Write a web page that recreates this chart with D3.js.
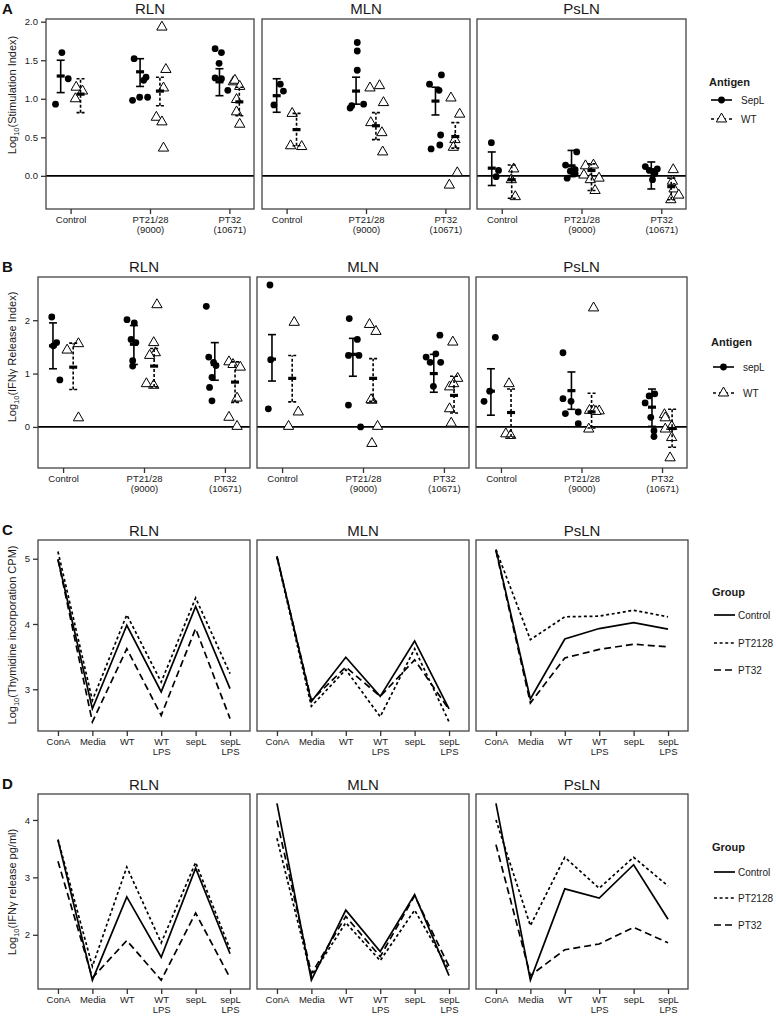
<!DOCTYPE html>
<html><head><meta charset="utf-8">
<script src="https://cdn.jsdelivr.net/npm/d3@7"></script>
<style>body{margin:0;background:#fff}svg{display:block}text{font-family:"Liberation Sans",Arial,sans-serif}</style>
</head><body><svg id="c" width="776" height="1018"></svg>
<script>
// ---------- categories / labels ----------
const nodes = ["RLN", "MLN", "PsLN"];
const challengeLabels = ["Control", "PT21/28\n(9000)", "PT32\n(10671)"];
const antigenLabelsA = ["SepL", "WT"];
const antigenLabelsB = ["sepL", "WT"];
const stimLabels = ["ConA", "Media", "WT", "WT\nLPS", "sepL", "sepL\nLPS"];
const groups = ["Control", "PT2128", "PT32"];
const ticksA = [0, 0.5, 1, 1.5, 2];
const ticksB = [0, 1, 2];
const ticksC = [3, 4, 5];
const ticksD = [2, 3, 4];

// ---------- Panel A: Log10(Stimulation Index) ----------
const siRLN_SepL = [[0.93, 1.60, 1.26], [0.98, 1.52, 1.02, 1.24, 1.28, 1.02], [1.65, 1.60, 1.46, 1.27, 1.26, 1.11]];
const siRLN_SepL_jit = [[-0.19, -0.11, -0.03], [-0.22, -0.20, -0.13, -0.08, -0.05, -0.03], [-0.18, -0.10, -0.13, -0.18, -0.10, -0.02]];
const siRLN_SepL_sum = [[1.295, 1.08, 1.50], [1.35, 1.16, 1.52], [1.22, 1.04, 1.39]];
const siRLN_WT = [[1.00, 1.15, 1.10], [1.93, 1.38, 1.14, 0.76, 0.70, 0.36], [1.22, 1.24, 1.16, 0.99, 0.83, 0.67]];
const siRLN_WT_jit = [[0.06, 0.07, 0.15], [0.15, 0.20, 0.17, 0.08, 0.15, 0.17], [0.05, 0.07, 0.13, 0.09, 0.09, 0.13]];
const siRLN_WT_sum = [[1.06, 0.82, 1.26], [1.10, 0.91, 1.28], [0.96, 0.78, 1.15]];

const siMLN_SepL = [[0.92, 1.19, 1.10], [1.73, 1.62, 1.37, 0.88, 0.91, 0.93], [1.19, 1.31, 1.11, 0.35, 0.53, 0.40]];
const siMLN_SepL_jit = [[-0.16, -0.08, -0.04], [-0.11, -0.11, -0.11, -0.20, -0.18, -0.03], [-0.20, -0.05, -0.08, -0.18, -0.06, -0.07]];
const siMLN_SepL_sum = [[1.04, 0.825, 1.26], [1.10, 0.93, 1.28], [0.97, 0.79, 1.15]];
const siMLN_WT = [[0.81, 0.39, 0.38], [1.14, 1.17, 0.95, 0.69, 0.56, 0.31], [1.01, 0.80, 0.47, 0.37, 0.04, -0.12]];
const siMLN_WT_jit = [[0.07, 0.05, 0.19], [0.05, 0.17, 0.22, 0.06, 0.20, 0.21], [0.07, 0.18, 0.12, 0.10, 0.15, 0.05]];
const siMLN_WT_sum = [[0.60, 0.39, 0.81], [0.65, 0.47, 0.82], [0.51, 0.36, 0.69]];

const siPsLN_SepL = [[0.43, -0.01, 0.07], [0.31, 0.14, 0.03, -0.03, 0.06, 0.08], [0.12, 0.07, 0.09, -0.05, 0.03]];
const siPsLN_SepL_jit = [[-0.13, -0.07, -0.04], [-0.06, -0.20, -0.08, -0.18, -0.14, -0.08], [-0.20, -0.15, -0.05, -0.11, -0.08]];
const siPsLN_SepL_sum = [[0.10, -0.125, 0.31], [0.13, -0.01, 0.33], [0.08, -0.17, 0.18]];
const siPsLN_WT = [[0.09, -0.05, -0.27], [0.13, 0.14, 0.01, -0.05, -0.03, -0.19], [0.08, -0.07, -0.17, -0.25, -0.31]];
const siPsLN_WT_jit = [[0.15, 0.12, 0.17], [0.05, 0.15, 0.03, 0.11, 0.22, 0.17], [0.15, 0.14, 0.16, 0.22, 0.12]];
const siPsLN_WT_sum = [[-0.05, -0.29, 0.14], [0.07, -0.19, 0.155], [-0.14, -0.31, -0.03]];

// ---------- Panel B: Log10(IFNγ Release Index) ----------
const irRLN_SepL = [[2.06, 1.58, 1.52, 0.88], [2.01, 1.95, 1.64, 1.58, 1.24, 1.14], [2.26, 1.31, 1.15, 0.93, 0.74, 0.49, 1.21]];
const irRLN_SepL_jit = [[-0.14, -0.08, -0.12, -0.04], [-0.21, -0.12, -0.16, -0.10, -0.14, -0.14], [-0.23, -0.20, -0.11, -0.16, -0.19, -0.16, -0.14]];
const irRLN_SepL_sum = [[1.52, 1.09, 1.95], [1.55, 1.17, 1.90], [1.17, 0.875, 1.58]];
const irRLN_WT = [[1.44, 1.56, 0.17], [2.29, 1.58, 1.39, 1.34, 0.81, 0.78], [1.22, 1.17, 1.12, 0.54, 0.18, 0.01]];
const irRLN_WT_jit = [[0.05, 0.19, 0.19], [0.16, 0.12, 0.14, 0.07, 0.03, 0.12], [0.05, 0.10, 0.19, 0.15, 0.05, 0.15]];
const irRLN_WT_sum = [[1.12, 0.70, 1.57], [1.14, 0.75, 1.47], [0.84, 0.46, 1.22]];

const irMLN_SepL = [[2.66, 1.26, 0.34], [2.03, 1.64, 1.34, 1.34, 0.41, 0.00], [1.72, 1.31, 1.37, 1.21, 1.21, 0.76]];
const irMLN_SepL_jit = [[-0.15, -0.14, -0.17], [-0.17, -0.07, -0.18, -0.05, -0.18, -0.03], [-0.05, -0.22, -0.10, -0.17, -0.04, -0.13]];
const irMLN_SepL_sum = [[1.27, 0.86, 1.73], [1.36, 0.95, 1.66], [1.00, 0.65, 1.36]];
const irMLN_WT = [[1.96, 0.28, 0.01], [1.92, 1.79, 0.50, 0.51, 0.01, -0.31], [1.59, 0.91, 0.75, 0.81, 0.34, 0.07]];
const irMLN_WT_jit = [[0.15, 0.20, 0.08], [0.08, 0.16, 0.11, 0.10, 0.18, 0.11], [0.11, 0.17, 0.07, 0.12, 0.07, 0.09]];
const irMLN_WT_sum = [[0.91, 0.47, 1.34], [0.91, 0.48, 1.28], [0.59, 0.26, 0.95]];

const irPsLN_SepL = [[1.68, 0.67, 0.48], [1.39, 0.53, 0.48, 0.25, 0.28, 0.06], [0.45, 0.58, 0.62, 0.18, -0.07, -0.18]];
const irPsLN_SepL_jit = [[-0.07, -0.14, -0.21], [-0.23, -0.23, -0.13, -0.20, -0.04, -0.04], [-0.21, -0.16, -0.09, -0.14, -0.10, -0.10]];
const irPsLN_SepL_sum = [[0.67, 0.22, 1.09], [0.68, 0.33, 1.03], [0.37, 0.01, 0.71]];
const irPsLN_WT = [[0.81, -0.13, -0.16], [2.23, 0.31, 0.31, 0.30, 0.29, -0.04], [0.23, 0.17, -0.04, -0.20, -0.58, 0.01]];
const irPsLN_WT_jit = [[0.10, 0.06, 0.12], [0.15, 0.10, 0.15, 0.22, 0.18, 0.09], [0.03, 0.04, 0.04, 0.12, 0.10, 0.12]];
const irPsLN_WT_sum = [[0.27, -0.19, 0.71], [0.28, -0.02, 0.63], [-0.03, -0.38, 0.33]];

// ---------- Panel C: Log10(Thymidine incorporation CPM) ----------
const thyRLN_Control = [4.99, 2.70, 3.98, 2.96, 4.27, 3.01];
const thyRLN_PT2128 = [5.11, 2.83, 4.14, 3.11, 4.40, 3.24];
const thyRLN_PT32 = [4.99, 2.50, 3.62, 2.60, 3.93, 2.55];
const thyMLN_Control = [5.04, 2.81, 3.49, 2.89, 3.74, 2.70];
const thyMLN_PT2128 = [5.02, 2.74, 3.30, 2.58, 3.62, 2.50];
const thyMLN_PT32 = [5.03, 2.83, 3.34, 2.89, 3.45, 2.69];
const thyPsLN_Control = [5.14, 2.85, 3.77, 3.93, 4.02, 3.92];
const thyPsLN_PT2128 = [5.14, 3.76, 4.11, 4.12, 4.21, 4.11];
const thyPsLN_PT32 = [5.12, 2.79, 3.48, 3.61, 3.69, 3.65];

// ---------- Panel D: Log10(IFNγ release pg/ml) ----------
const ifnRLN_Control = [3.65, 1.21, 2.66, 1.61, 3.16, 1.67];
const ifnRLN_PT2128 = [3.66, 1.45, 3.18, 1.86, 3.26, 1.75];
const ifnRLN_PT32 = [3.28, 1.25, 1.90, 1.21, 2.38, 1.25];
const ifnMLN_Control = [4.29, 1.21, 2.43, 1.71, 2.70, 1.29];
const ifnMLN_PT2128 = [3.68, 1.28, 2.21, 1.55, 2.43, 1.39];
const ifnMLN_PT32 = [3.99, 1.32, 2.32, 1.62, 2.68, 1.45];
const ifnPsLN_Control = [4.29, 1.21, 2.80, 2.64, 3.22, 2.27];
const ifnPsLN_PT2128 = [4.00, 2.16, 3.35, 2.81, 3.35, 2.85];
const ifnPsLN_PT32 = [3.57, 1.29, 1.74, 1.84, 2.13, 1.86];

// ---------- build tables ----------
const dotA = {
  RLN: {SepL: [siRLN_SepL, siRLN_SepL_jit, siRLN_SepL_sum], WT: [siRLN_WT, siRLN_WT_jit, siRLN_WT_sum]},
  MLN: {SepL: [siMLN_SepL, siMLN_SepL_jit, siMLN_SepL_sum], WT: [siMLN_WT, siMLN_WT_jit, siMLN_WT_sum]},
  PsLN: {SepL: [siPsLN_SepL, siPsLN_SepL_jit, siPsLN_SepL_sum], WT: [siPsLN_WT, siPsLN_WT_jit, siPsLN_WT_sum]}
};
const dotB = {
  RLN: {SepL: [irRLN_SepL, irRLN_SepL_jit, irRLN_SepL_sum], WT: [irRLN_WT, irRLN_WT_jit, irRLN_WT_sum]},
  MLN: {SepL: [irMLN_SepL, irMLN_SepL_jit, irMLN_SepL_sum], WT: [irMLN_WT, irMLN_WT_jit, irMLN_WT_sum]},
  PsLN: {SepL: [irPsLN_SepL, irPsLN_SepL_jit, irPsLN_SepL_sum], WT: [irPsLN_WT, irPsLN_WT_jit, irPsLN_WT_sum]}
};
const lineC = {
  RLN: [thyRLN_Control, thyRLN_PT2128, thyRLN_PT32],
  MLN: [thyMLN_Control, thyMLN_PT2128, thyMLN_PT32],
  PsLN: [thyPsLN_Control, thyPsLN_PT2128, thyPsLN_PT32]
};
const lineD = {
  RLN: [ifnRLN_Control, ifnRLN_PT2128, ifnRLN_PT32],
  MLN: [ifnMLN_Control, ifnMLN_PT2128, ifnMLN_PT32],
  PsLN: [ifnPsLN_Control, ifnPsLN_PT2128, ifnPsLN_PT32]
};

// ---------- drawing ----------
const svg = d3.select("#c");
const INK = "#1a1a1a";
const dashes = ["none", "3,2.6", "7,4"];

function panelLetter(ch, y) {
  svg.append("text").attr("x", 2).attr("y", y).attr("font-family", '"Liberation Serif","Times New Roman",serif')
    .attr("font-weight", "bold").attr("font-size", 15).attr("fill", "#111").text(ch);
}
function yLabel(x, yc, rest) {
  const t = svg.append("text").attr("transform", `translate(${x},${yc}) rotate(-90)`)
    .attr("text-anchor", "middle").attr("font-size", 11).attr("fill", INK);
  t.append("tspan").text("Log");
  t.append("tspan").attr("font-size", 7.5).attr("dy", 2.8).text("10");
  t.append("tspan").attr("dy", -2.8).text(rest);
}
function multiLabel(sel, labels) {
  sel.selectAll(".tick text").each(function (d) {
    const el = d3.select(this);
    const lines = labels[d].split("\n");
    el.text(null).attr("dy", null);
    lines.forEach((l, i) => el.append("tspan").attr("x", 0).attr("dy", i ? "1.12em" : "0.71em").text(l));
  });
}
function styleAxis(ax) {
  ax.select(".domain").remove();
  ax.selectAll(".tick line").attr("stroke", "#333").attr("stroke-width", 1.3);
  ax.selectAll(".tick text").attr("fill", INK).attr("font-size", 9.5).attr("font-family", '"Liberation Sans",Arial,sans-serif');
}

function dotPanel(P) {
  const y = d3.scaleLinear().domain(P.domain).range([P.y1, P.y0]);
  P.boxes.forEach((b, ni) => {
    const node = nodes[ni];
    const x = d3.scaleLinear().domain([-0.31, 2.31]).range(b);
    const g = svg.append("g");
    g.append("text").attr("x", (b[0] + b[1]) / 2).attr("y", P.titleY).attr("text-anchor", "middle")
      .attr("font-size", 15).attr("fill", INK).text(node);
    g.append("line").attr("x1", b[0]).attr("x2", b[1]).attr("y1", y(0)).attr("y2", y(0))
      .attr("stroke", "#000").attr("stroke-width", 1.6);
    ["SepL", "WT"].forEach((ag, ai) => {
      const [vals, jit, sums] = P.data[node][ag];
      const off = ai === 0 ? -0.125 : 0.125;
      const dash = ai === 0 ? null : "3,2";
      vals.forEach((vs, ci) => {
        vs.forEach((v, k) => {
          const px = x(ci + jit[ci][k]), py = y(v);
          if (ai === 0) g.append("circle").attr("cx", px).attr("cy", py).attr("r", 3.4).attr("fill", "#000");
          else g.append("path").attr("d", d3.symbol(d3.symbolTriangle, 46)()).attr("transform", `translate(${px},${py})`)
            .attr("fill", "#fff").attr("stroke", "#000").attr("stroke-width", 1);
        });
      });
      sums.forEach((s, ci) => {
        const cx = x(ci + off);
        const [m, lo, hi] = s;
        const eg = g.append("g").attr("stroke", "#000").attr("stroke-width", 1.6).attr("stroke-dasharray", dash);
        eg.append("line").attr("x1", cx).attr("x2", cx).attr("y1", y(lo)).attr("y2", y(hi));
        eg.append("line").attr("x1", cx - 4).attr("x2", cx + 4).attr("y1", y(lo)).attr("y2", y(lo));
        eg.append("line").attr("x1", cx - 4).attr("x2", cx + 4).attr("y1", y(hi)).attr("y2", y(hi));
        g.append("rect").attr("x", cx - 4).attr("y", y(m) - 1.6).attr("width", 8).attr("height", 3.2).attr("fill", "#000");
      });
    });
    g.append("rect").attr("x", b[0]).attr("y", P.y0).attr("width", b[1] - b[0]).attr("height", P.y1 - P.y0)
      .attr("fill", "none").attr("stroke", "#444").attr("stroke-width", 1.3);
    const ax = g.append("g").attr("transform", `translate(0,${P.y1})`)
      .call(d3.axisBottom(x).tickValues([0, 1, 2]).tickSize(5).tickPadding(2).tickFormat(i => challengeLabels[i]));
    styleAxis(ax);
    multiLabel(ax, challengeLabels);
    if (ni === 0) {
      const ay = g.append("g").attr("transform", `translate(${b[0]},0)`)
        .call(d3.axisLeft(y).tickValues(P.ticks).tickSize(5).tickPadding(3).tickFormat(P.fmt));
      styleAxis(ay);
    }
  });
  // legend
  const L = P.legend;
  svg.append("text").attr("x", L.x).attr("y", L.y[0] + 4).attr("font-size", 11).attr("font-weight", "bold").attr("fill", INK).text("Antigen");
  P.legLabels.forEach((lab, i) => {
    const yy = L.y[i + 1];
    svg.append("line").attr("x1", L.x + 2).attr("x2", L.x + 23).attr("y1", yy).attr("y2", yy)
      .attr("stroke", "#000").attr("stroke-width", 1.6).attr("stroke-dasharray", i ? "3,3" : null);
    if (i === 0) svg.append("circle").attr("cx", L.x + 12.5).attr("cy", yy).attr("r", 3.4).attr("fill", "#000");
    else svg.append("path").attr("d", d3.symbol(d3.symbolTriangle, 46)()).attr("transform", `translate(${L.x + 12.5},${yy})`)
      .attr("fill", "#fff").attr("stroke", "#000");
    svg.append("text").attr("x", L.x + 32).attr("y", yy + 3.5).attr("font-size", 10).attr("fill", INK).text(lab);
  });
}

function linePanel(P) {
  const y = d3.scaleLinear().domain(P.domain).range([P.y1, P.y0]);
  P.boxes.forEach((b, ni) => {
    const node = nodes[ni];
    const x = d3.scaleLinear().domain([-0.58, 5.58]).range(b);
    const g = svg.append("g");
    g.append("text").attr("x", (b[0] + b[1]) / 2).attr("y", P.titleY).attr("text-anchor", "middle")
      .attr("font-size", 15).attr("fill", INK).text(node);
    const line = d3.line().x((d, i) => x(i)).y(d => y(d));
    [2, 1, 0].forEach(gi => {
      g.append("path").attr("d", line(P.data[node][gi])).attr("fill", "none").attr("stroke", "#000")
        .attr("stroke-width", 1.7).attr("stroke-dasharray", dashes[gi] === "none" ? null : dashes[gi]);
    });
    g.append("rect").attr("x", b[0]).attr("y", P.y0).attr("width", b[1] - b[0]).attr("height", P.y1 - P.y0)
      .attr("fill", "none").attr("stroke", "#444").attr("stroke-width", 1.3);
    const ax = g.append("g").attr("transform", `translate(0,${P.y1})`)
      .call(d3.axisBottom(x).tickValues(d3.range(6)).tickSize(5).tickPadding(2).tickFormat(i => stimLabels[i]));
    styleAxis(ax);
    multiLabel(ax, stimLabels);
    if (ni === 0) {
      const ay = g.append("g").attr("transform", `translate(${b[0]},0)`)
        .call(d3.axisLeft(y).tickValues(P.ticks).tickSize(5).tickPadding(3).tickFormat(d3.format("d")));
      styleAxis(ay);
    }
  });
  const L = P.legend;
  svg.append("text").attr("x", L.x).attr("y", L.y[0] + 4).attr("font-size", 11).attr("font-weight", "bold").attr("fill", INK).text("Group");
  groups.forEach((lab, i) => {
    const yy = L.y[i + 1];
    svg.append("line").attr("x1", L.x + 2).attr("x2", L.x + 23).attr("y1", yy).attr("y2", yy)
      .attr("stroke", "#000").attr("stroke-width", 1.7).attr("stroke-dasharray", dashes[i] === "none" ? null : dashes[i]);
    svg.append("text").attr("x", L.x + 26).attr("y", yy + 3.5).attr("font-size", 10).attr("fill", INK).text(lab);
  });
}

// Panel A
panelLetter("A", 14);
yLabel(16, 95, "(Stimulation Index)");
dotPanel({
  boxes: [[46, 254], [262, 470], [477, 686]], y0: 19, y1: 209, domain: [-0.43, 2.035],
  ticks: ticksA, fmt: d3.format(".1f"), titleY: 14, data: dotA,
  legend: {x: 709, y: [82, 100, 119]}, legLabels: antigenLabelsA
});
// Panel B
panelLetter("B", 272);
yLabel(16, 357, "(IFNγ Release Index)");
dotPanel({
  boxes: [[38, 250], [257, 469], [476, 687]], y0: 277, y1: 468, domain: [-0.77, 2.81],
  ticks: ticksB, fmt: d3.format("d"), titleY: 272, data: dotB,
  legend: {x: 711, y: [342, 367, 393]}, legLabels: antigenLabelsB
});
// Panel C
panelLetter("C", 535);
yLabel(16, 635, "(Thymidine incorporation CPM)");
linePanel({
  boxes: [[38, 250], [257, 469], [476, 688]], y0: 540, y1: 731, domain: [2.36, 5.287],
  ticks: ticksC, titleY: 535.5, data: lineC, legend: {x: 712, y: [592, 615, 643, 670]}
});
// Panel D
panelLetter("D", 789);
yLabel(16, 892, "(IFNγ release pg/ml)");
linePanel({
  boxes: [[38, 250], [257, 469], [476, 688]], y0: 794, y1: 989, domain: [1.056, 4.452],
  ticks: ticksD, titleY: 789.5, data: lineD, legend: {x: 712, y: [847, 872, 898, 925]}
});
</script></body></html>
